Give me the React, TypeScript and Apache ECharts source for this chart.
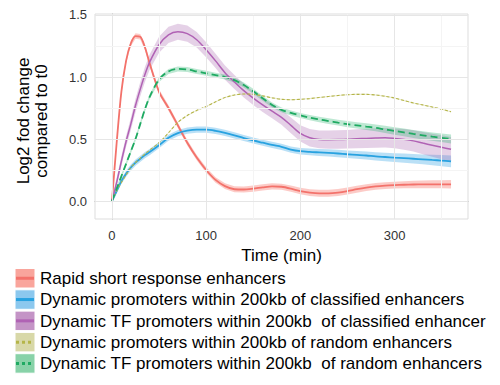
import React, { useEffect, useRef } from "react";
import * as echarts from "echarts";

const times = [0, 5, 10, 15, 20, 25, 30, 35, 40, 50, 60, 70, 80, 90, 100, 110, 120, 130, 140, 150, 160, 170, 180, 190, 200, 210, 220, 230, 240, 250, 260, 270, 280, 290, 300, 310, 320, 330, 340, 350, 360];

const rapid = [0, 0.47, 0.88, 1.13, 1.27, 1.33, 1.325, 1.24, 1.11, 0.88, 0.75, 0.61, 0.47, 0.35, 0.25, 0.17, 0.12, 0.095, 0.093, 0.1, 0.11, 0.118, 0.115, 0.1, 0.08, 0.068, 0.062, 0.062, 0.068, 0.08, 0.095, 0.108, 0.118, 0.124, 0.128, 0.131, 0.133, 0.134, 0.135, 0.135, 0.135];
const rapidHw = [0.01, 0.015, 0.02, 0.02, 0.022, 0.022, 0.022, 0.022, 0.022, 0.022, 0.022, 0.022, 0.022, 0.022, 0.022, 0.022, 0.024, 0.025, 0.025, 0.025, 0.025, 0.025, 0.025, 0.025, 0.026, 0.027, 0.028, 0.028, 0.028, 0.028, 0.028, 0.028, 0.028, 0.028, 0.028, 0.029, 0.03, 0.031, 0.032, 0.033, 0.035];

const dynProm = [0, 0.08, 0.16, 0.22, 0.27, 0.31, 0.34, 0.37, 0.395, 0.45, 0.51, 0.548, 0.567, 0.575, 0.575, 0.566, 0.55, 0.53, 0.508, 0.488, 0.47, 0.452, 0.437, 0.415, 0.402, 0.396, 0.392, 0.388, 0.383, 0.377, 0.372, 0.367, 0.36, 0.355, 0.35, 0.346, 0.341, 0.336, 0.331, 0.326, 0.32];
const dynPromHw = [0.02, 0.02, 0.022, 0.024, 0.025, 0.025, 0.025, 0.025, 0.025, 0.025, 0.025, 0.025, 0.025, 0.025, 0.025, 0.025, 0.025, 0.025, 0.025, 0.025, 0.025, 0.025, 0.025, 0.025, 0.026, 0.027, 0.028, 0.029, 0.03, 0.031, 0.032, 0.033, 0.034, 0.035, 0.036, 0.037, 0.038, 0.04, 0.042, 0.045, 0.048];

const dynTF = [0, 0.15, 0.32, 0.48, 0.62, 0.77, 0.9, 1.02, 1.12, 1.26, 1.34, 1.365, 1.35, 1.3, 1.22, 1.13, 1.035, 0.96, 0.89, 0.83, 0.775, 0.725, 0.675, 0.61, 0.545, 0.51, 0.497, 0.495, 0.496, 0.498, 0.502, 0.505, 0.508, 0.51, 0.505, 0.497, 0.485, 0.467, 0.45, 0.433, 0.417];
const dynTFHw = [0.03, 0.035, 0.04, 0.045, 0.05, 0.055, 0.058, 0.06, 0.062, 0.064, 0.065, 0.065, 0.065, 0.063, 0.06, 0.058, 0.057, 0.056, 0.056, 0.056, 0.057, 0.058, 0.06, 0.063, 0.066, 0.07, 0.072, 0.073, 0.074, 0.075, 0.076, 0.077, 0.078, 0.079, 0.08, 0.083, 0.086, 0.089, 0.093, 0.097, 0.1];

const randProm = [0, 0.08, 0.15, 0.21, 0.27, 0.31, 0.345, 0.38, 0.41, 0.47, 0.55, 0.635, 0.69, 0.73, 0.762, 0.8, 0.835, 0.855, 0.863, 0.86, 0.848, 0.832, 0.82, 0.817, 0.82, 0.826, 0.835, 0.843, 0.851, 0.857, 0.86, 0.86, 0.855, 0.845, 0.83, 0.81, 0.79, 0.775, 0.758, 0.74, 0.72];
const randPromHw = [0.004, 0.004, 0.004, 0.004, 0.004, 0.004, 0.004, 0.004, 0.004, 0.004, 0.004, 0.004, 0.004, 0.004, 0.004, 0.004, 0.004, 0.004, 0.004, 0.004, 0.004, 0.004, 0.004, 0.004, 0.004, 0.004, 0.004, 0.004, 0.004, 0.004, 0.004, 0.004, 0.004, 0.004, 0.004, 0.004, 0.004, 0.004, 0.004, 0.004, 0.004];

const randTF = [0, 0.1, 0.2, 0.3, 0.4, 0.5, 0.62, 0.74, 0.84, 0.98, 1.045, 1.065, 1.06, 1.045, 1.03, 1.015, 1.0, 0.975, 0.935, 0.885, 0.828, 0.775, 0.735, 0.71, 0.69, 0.672, 0.658, 0.645, 0.632, 0.62, 0.61, 0.6, 0.59, 0.577, 0.565, 0.553, 0.541, 0.53, 0.519, 0.51, 0.5];
const randTFHw = [0.015, 0.015, 0.016, 0.017, 0.018, 0.019, 0.02, 0.02, 0.02, 0.02, 0.02, 0.02, 0.02, 0.02, 0.02, 0.02, 0.02, 0.02, 0.02, 0.02, 0.02, 0.02, 0.02, 0.02, 0.02, 0.021, 0.022, 0.023, 0.024, 0.025, 0.026, 0.027, 0.028, 0.029, 0.03, 0.031, 0.032, 0.033, 0.034, 0.035, 0.036];

const legendLabels = [
  "Rapid short response enhancers",
  "Dynamic promoters within 200kb of classified enhancers",
  "Dynamic TF promoters within 200kb  of classified enhancer",
  "Dynamic promoters within 200kb of random enhancers",
  "Dynamic TF promoters within 200kb  of random enhancers",
];

const xTicks = [0, 100, 200, 300];
const xMinor = [50, 150, 250, 350];
const yTicks = [0, 0.5, 1.0, 1.5];
const yMinor = [0.25, 0.75, 1.25];

const FONT = "'Liberation Sans', Arial, Helvetica, sans-serif";

const seriesDefs = [
  { name: legendLabels[0], v: rapid, hw: rapidHw, line: "#F3726B", fill: "rgba(248,118,109,0.38)", key: "#F9A59C", width: 1.8, dash: null as any },
  { name: legendLabels[1], v: dynProm, hw: dynPromHw, line: "#28A2E0", fill: "rgba(40,160,226,0.32)", key: "#8CC8EE", width: 1.8, dash: null },
  { name: legendLabels[2], v: dynTF, hw: dynTFHw, line: "#B062B4", fill: "rgba(160,90,170,0.28)", key: "#C494C6", width: 1.5, dash: null },
  { name: legendLabels[3], v: randProm, hw: randPromHw, line: "#B5B548", fill: "rgba(180,180,90,0.3)", key: "#D8D8A8", width: 1.1, dash: [3, 2] },
  { name: legendLabels[4], v: randTF, hw: randTFHw, line: "#1FAA62", fill: "rgba(40,180,110,0.3)", key: "#88D2A8", width: 1.8, dash: [7, 4] },
];

export default function App() {
  const ref = useRef<HTMLDivElement>(null);
  useEffect(() => {
    const chart = echarts.init(ref.current!, null, { renderer: "svg" });
    const series: any[] = [];

    const gridLines: any[] = [];
    xTicks.forEach((x) => gridLines.push({ xAxis: x, lineStyle: { color: "#E6E6E6", width: 1, type: "solid" } }));
    xMinor.forEach((x) => gridLines.push({ xAxis: x, lineStyle: { color: "#F4F4F4", width: 1, type: "solid" } }));
    yTicks.forEach((y) => gridLines.push({ yAxis: y, lineStyle: { color: "#E6E6E6", width: 1, type: "solid" } }));
    yMinor.forEach((y) => gridLines.push({ yAxis: y, lineStyle: { color: "#F4F4F4", width: 1, type: "solid" } }));
    series.push({
      type: "line",
      name: "grid",
      data: [[0, 0]],
      symbol: "none",
      lineStyle: { opacity: 0 },
      z: 1,
      silent: true,
      markLine: { silent: true, symbol: ["none", "none"], label: { show: false }, data: gridLines, animation: false },
    });

    seriesDefs.forEach((s, k) => {
      series.push({
        type: "custom",
        name: "band" + k,
        data: [[0, 0]],
        silent: true,
        z: 2,
        renderItem: (params: any, api: any) => {
          const up = times.map((t, i) => api.coord([t, s.v[i] + s.hw[i]]));
          const lo = times.map((t, i) => api.coord([t, s.v[i] - s.hw[i]])).reverse();
          return {
            type: "polygon",
            shape: { points: up.concat(lo) },
            style: { fill: s.fill, stroke: "none" },
          };
        },
      });
    });
    seriesDefs.forEach((s) => {
      series.push({
        type: "line",
        name: s.name,
        data: times.map((t, i) => [t, s.v[i]]),
        symbol: "none",
        smooth: 0.3,
        lineStyle: { color: s.line, width: s.width, type: s.dash ? s.dash : "solid" },
        z: 3,
      });
    });

    const graphic: any[] = [];
    seriesDefs.forEach((s, i) => {
      const top = 268.5 + i * 21.3;
      graphic.push({
        type: "rect",
        shape: { x: 15, y: top, width: 20, height: 19.5 },
        style: { fill: s.key, stroke: "#ffffff", lineWidth: 1 },
      });
      graphic.push({
        type: "line",
        shape: { x1: 16, y1: top + 9.75, x2: 34, y2: top + 9.75 },
        style: { stroke: s.line, lineWidth: 3, lineDash: s.dash ? [3, 3] : null },
      });
      graphic.push({
        type: "text",
        x: 40,
        y: top + 10,
        style: { text: s.name, font: "17px " + FONT, fill: "#000", textVerticalAlign: "middle", verticalAlign: "middle" },
      });
    });

    chart.setOption({
      animation: false,
      grid: { left: 95, right: 32, top: 14, bottom: 166, show: true, borderColor: "#DDDDDD", borderWidth: 1, backgroundColor: "#fff" },
      xAxis: {
        type: "value",
        min: -18,
        max: 378,
        name: "Time (min)",
        nameLocation: "middle",
        nameGap: 21,
        nameTextStyle: { fontSize: 17, color: "#000", fontFamily: FONT },
        axisLine: { show: true, lineStyle: { color: "#B3B3B3" } },
        axisTick: { show: true, length: 4, customValues: xTicks, lineStyle: { color: "#B3B3B3" } },
        axisLabel: { customValues: xTicks, fontSize: 13, color: "#333", fontFamily: FONT, margin: 10 },
        splitLine: { show: false },
      },
      yAxis: {
        type: "value",
        min: -0.145,
        max: 1.508,
        name: "Log2 fod change\ncompared to t0",
        nameLocation: "middle",
        nameGap: 44,
        nameRotate: 90,
        nameTextStyle: { fontSize: 17, color: "#000", fontFamily: FONT, lineHeight: 18.5, padding: [0, 9, 0, 0] },
        axisLine: { show: true, lineStyle: { color: "#B3B3B3" } },
        axisTick: { show: true, length: 4, customValues: yTicks, lineStyle: { color: "#B3B3B3" } },
        axisLabel: { customValues: yTicks, fontSize: 13, color: "#333", fontFamily: FONT, margin: 8, formatter: (v: number) => v.toFixed(1) },
        splitLine: { show: false },
      },
      series,
      graphic,
    });
    return () => chart.dispose();
  }, []);
  return <div ref={ref} style={{ width: 500, height: 385, position: "absolute", left: 0, top: 0 }} />;
}
